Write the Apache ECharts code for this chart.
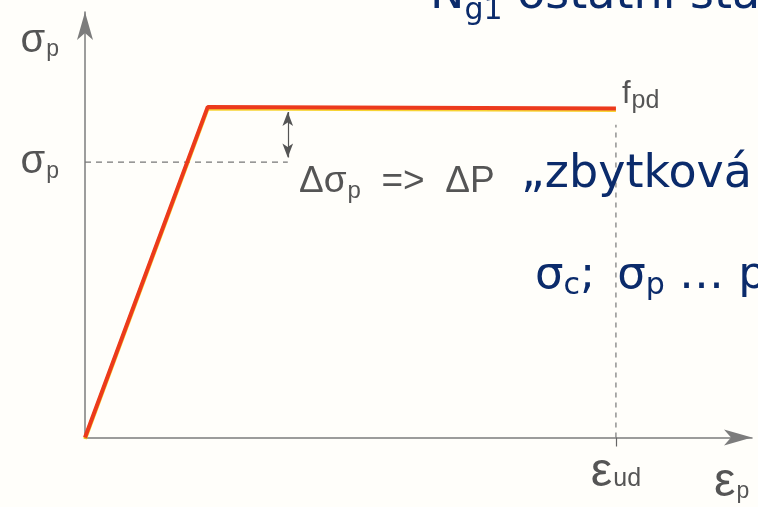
<!DOCTYPE html>
<html lang="cs">
  <head>
    <meta charset="UTF-8" />
    <title>sigma-epsilon</title>
    <script src="https://cdn.jsdelivr.net/npm/echarts@6/dist/echarts.min.js"></script>
    <style>
      html, body { margin: 0; padding: 0; background: #fffefa; }
    </style>
  </head>
  <body>
    <div id="chart" style="width: 758px; height: 507px"></div>
  </body>
  <script>
    // pracovni diagram predpinaci vyztuze (bilinearni)
    const steelLine = [
      [0, 0],
      [18.4, 77.7],
      [79.6, 77.3],
    ];
    // sigma_p po ztratach
    const sigmaP = 64.7;
    const epsUd = 79.6;
    // konec vodorovne carkovane cary (u sipky delta sigma)
    const deltaX = 30.4;
    const deltaArrow = [76.5, 65.8];
    const dashH = [
      [0, sigmaP],
      [deltaX, sigmaP],
    ];
    const dashV = [
      [epsUd, 0],
      [epsUd, 73.5],
    ];

    const gray = "#555";
    const axisGray = "#7c7c7c";
    const navy = "#0b2b6b";
    const dFont = "Liberation Sans";
    const sFont = "DejaVu Sans";

    // rich styly pro popisky os (echarts label -> color)
    const richDiag = {
      s: { fontFamily: dFont, fontSize: 40, color: gray, lineHeight: 40 },
      f: { fontFamily: dFont, fontSize: 31, color: gray, lineHeight: 32 },
      e: { fontFamily: dFont, fontSize: 48, color: gray, lineHeight: 40 },
      sub: { fontFamily: dFont, fontSize: 23, color: gray, padding: [18, 0, 0, 1] },
      subs: { fontFamily: dFont, fontSize: 25, color: gray, padding: [14, 0, 0, 1] },
    };

    let chart = echarts.init(document.getElementById("chart"));
    chart.setOption({
      backgroundColor: "#fffefa",
      animation: false,
      grid: { left: 85, right: 6, top: 12, bottom: 64 },
      xAxis: {
        type: "value",
        min: 0,
        max: 100,
        splitLine: { show: false },
        axisLine: {
          onZero: false,
          symbol: ["none", "arrow"],
          symbolSize: [12, 28],
          lineStyle: { color: axisGray, width: 1.5 },
        },
        axisTick: {
          show: true,
          customValues: [epsUd],
          length: 9,
          lineStyle: { color: "#666", width: 1.2 },
        },
        axisLabel: {
          show: true,
          customValues: [epsUd],
          margin: 15,
          formatter: () => "{e|ε}{subs|ud}",
          rich: richDiag,
        },
        name: "{e|ε}{sub|p}",
        nameLocation: "end",
        nameGap: -38,
        nameTextStyle: { rich: richDiag, verticalAlign: "top", padding: [25, 0, 0, 0] },
      },
      yAxis: {
        type: "value",
        min: 0,
        max: 100,
        splitLine: { show: false },
        axisLine: {
          onZero: false,
          symbol: ["none", "arrow"],
          symbolSize: [12, 28],
          lineStyle: { color: axisGray, width: 1.5 },
        },
        axisTick: { show: false },
        axisLabel: {
          show: true,
          customValues: [sigmaP],
          margin: 26,
          formatter: () => "{s|σ}{sub|p}",
          rich: richDiag,
        },
        name: "{s|σ}{sub|p}",
        nameLocation: "end",
        nameGap: -8,
        nameTextStyle: { rich: richDiag, align: "right", verticalAlign: "top", padding: [0, 26, 0, 0] },
      },
      series: [
        {
          type: "line",
          data: steelLine,
          symbol: "none",
          z: 5,
          lineStyle: {
            color: "#ec3a1c",
            width: 4,
            shadowColor: "rgba(245,200,0,0.8)",
            shadowBlur: 0,
            shadowOffsetY: 1.5,
          },
          endLabel: {
            show: true,
            distance: 6,
            offset: [0, -14],
            formatter: () => "{f|f}{subs|pd}",
            rich: richDiag,
          },
        },
        {
          type: "line",
          data: dashH,
          symbol: "none",
          lineStyle: { color: "#777", width: 1.2, type: [6, 5] },
          markLine: {
            silent: true,
            symbol: ["arrow", "arrow"],
            symbolSize: [8, 14],
            label: { show: false },
            lineStyle: { color: "#555", width: 1.2, type: "solid" },
            data: [[{ coord: [deltaX, deltaArrow[0]] }, { coord: [deltaX, deltaArrow[1]] }]],
          },
        },
        {
          type: "line",
          data: dashV,
          symbol: "none",
          lineStyle: { color: "#777", width: 1.2, type: [5, 5] },
        },
      ],
      graphic: [
        {
          type: "text",
          left: 299,
          top: 163,
          style: {
            text: "{a|Δσ}{b|p}{a|  =>  ΔP}",
            fill: gray,
            rich: {
              a: { fontFamily: dFont, fontSize: 37, fill: gray, lineHeight: 42 },
              b: { fontFamily: dFont, fontSize: 24, fill: gray, padding: [20, 0, 0, 1] },
            },
          },
        },
        // text ze slajdu pres obrazek
        {
          type: "text",
          z: 100,
          left: 430,
          top: -27,
          style: {
            text: "{b|N}{bs|g1}{b| ostatní stálé}",
            fill: navy,
            rich: {
              b: { fontFamily: sFont, fontSize: 46, fill: navy, lineHeight: 46 },
              bs: { fontFamily: sFont, fontSize: 30, fill: navy, padding: [30, 0, 0, 0] },
            },
          },
        },
        {
          type: "text",
          z: 100,
          left: 521,
          top: 152,
          style: { text: "„zbytková", fontFamily: sFont, fontSize: 46, fill: navy },
        },
        {
          type: "text",
          z: 100,
          left: 535,
          top: 254,
          style: {
            text: "{b|σ}{bs|c}{b|;}{g|σ}{bs|p}{b| … předpětí}",
            fill: navy,
            rich: {
              b: { fontFamily: sFont, fontSize: 45, fill: navy, lineHeight: 46 },
              g: { fontFamily: sFont, fontSize: 45, fill: navy, lineHeight: 46, padding: [0, 0, 0, 22] },
              bs: { fontFamily: sFont, fontSize: 30, fill: navy, padding: [20, 0, 0, 0] },
            },
          },
        },
      ],
    });
  </script>
</html>
